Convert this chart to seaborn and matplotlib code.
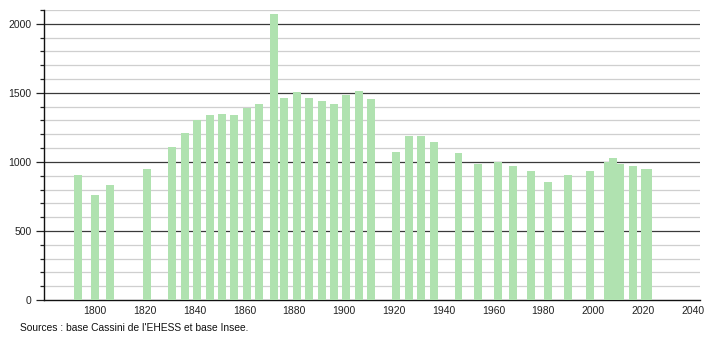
import matplotlib
matplotlib.use("Agg")
import matplotlib.pyplot as plt
from matplotlib.ticker import MultipleLocator
import seaborn as sns
import pandas as pd

years = [1793, 1800, 1806, 1821, 1831, 1836, 1841, 1846, 1851, 1856,
         1861, 1866, 1872, 1876, 1881, 1886, 1891, 1896, 1901, 1906,
         1911, 1921, 1926, 1931, 1936, 1946, 1954, 1962, 1968, 1975,
         1982, 1990, 1999, 2006, 2008, 2011, 2016, 2021, 2022]
population = [905, 762, 834, 950, 1105, 1209, 1306, 1340, 1347, 1340,
              1393, 1417, 2072, 1463, 1509, 1465, 1444, 1419, 1487, 1516,
              1453, 1071, 1190, 1190, 1146, 1066, 987, 996, 972, 933,
              856, 904, 933, 1002, 1027, 986, 971, 950, 950]
x_ticks = [1800, 1820, 1840, 1860, 1880, 1900, 1920, 1940, 1960, 1980, 2000, 2020, 2040]
y_ticks = [0, 500, 1000, 1500, 2000]
source_text = "Sources : base Cassini de l'EHESS et base Insee."

df = pd.DataFrame({"year": years, "population": population})

sns.set_style("white")
plt.rcParams['font.family'] = ['Liberation Sans', 'DejaVu Sans']

fig = plt.figure(figsize=(7.1, 3.4), dpi=100)
ax = fig.add_axes([44 / 710, 40 / 340, 656 / 710, 290 / 340])

# bar width of ~3.2 years, expressed relative to the smallest spacing
sorted_years = sorted(set(years))
min_gap = min(b - a for a, b in zip(sorted_years, sorted_years[1:]))
sns.barplot(data=df, x="year", y="population", native_scale=True,
            width=3.2 / min_gap, color="#b0e2b0", saturation=1,
            edgecolor="none", linewidth=0, ax=ax, zorder=3)

ax.set_xlim(1779.5, 2043)
ax.set_ylim(0, 2100)

# grid lines
ax.yaxis.set_major_locator(MultipleLocator(500))
ax.yaxis.set_minor_locator(MultipleLocator(100))
ax.set_yticks(y_ticks)
ax.set_yticklabels([str(v) for v in y_ticks])
ax.grid(False)
for v in range(100, 2101, 100):
    if v % 500 == 0:
        ax.axhline(v, color="#3a3a3a", linewidth=0.9, zorder=1)
    else:
        ax.axhline(v, color="#cfcfcf", linewidth=0.9, zorder=1)

ax.set_xticks(x_ticks)
ax.set_xticklabels([str(v) for v in x_ticks])
ax.tick_params(axis="x", length=0, pad=4, labelsize=7.5, colors="#222222")
ax.tick_params(axis="y", which="major", length=6, width=0.9, pad=3, labelsize=7.5,
               colors="#222222", left=True)
ax.tick_params(axis="y", which="minor", length=3, width=0.9, left=True, color="#222222")

for side in ["top", "right"]:
    ax.spines[side].set_visible(False)
ax.spines["left"].set_color("#111111")
ax.spines["left"].set_linewidth(1.0)
ax.spines["bottom"].set_color("#111111")
ax.spines["bottom"].set_linewidth(1.0)
ax.set_xlabel("")
ax.set_ylabel("")

fig.text(20 / 710, 1 - 328 / 340, source_text, fontsize=7.4, color="#111111",
         va="center", ha="left")

fig.savefig("out.png", dpi=100)
